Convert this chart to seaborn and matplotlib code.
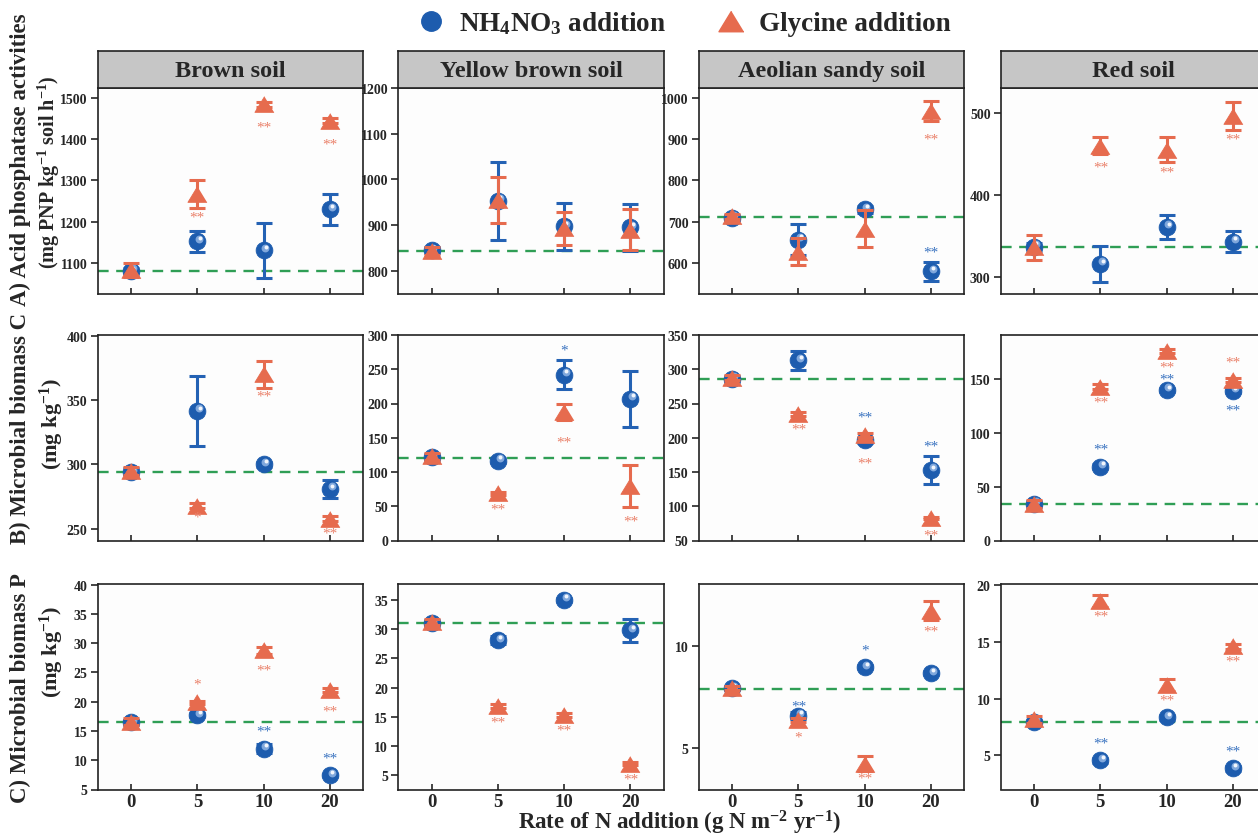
import numpy as np
import pandas as pd
import matplotlib
matplotlib.use("Agg")
import matplotlib.pyplot as plt
import seaborn as sns
from matplotlib.lines import Line2D
from matplotlib.markers import MarkerStyle
from matplotlib.transforms import ScaledTranslation

sns.set_theme(style="ticks")
plt.rcParams["font.family"] = ["Liberation Serif", "DejaVu Serif"]
plt.rcParams["font.weight"] = "bold"
plt.rcParams["mathtext.fontset"] = "custom"
plt.rcParams["mathtext.rm"] = "Liberation Serif:bold"
plt.rcParams["mathtext.it"] = "Liberation Serif:bold:italic"
plt.rcParams["mathtext.bf"] = "Liberation Serif:bold"

# ---------------- data ----------------
n_rates = ["0", "5", "10", "20"]
soils = ["Brown soil", "Yellow brown soil", "Aeolian sandy soil", "Red soil"]
legend_labels = ["NH$_4$NO$_3$ addition", "Glycine addition"]
row_labels = ["A) Acid phosphatase activities", "B) Microbial biomass C", "C) Microbial biomass P"]
unit_labels = ["(mg PNP kg$^{-1}$ soil h$^{-1}$)", "(mg kg$^{-1}$)", "(mg kg$^{-1}$)"]
x_title = "Rate of N addition (g N m$^{-2}$ yr$^{-1}$)"

# A) acid phosphatase
acp_nh4 = [[1080, 1152, 1130, 1230], [845, 953, 897, 895], [709, 656, 730, 579], [337, 316, 361, 343]]
acp_nh4_err = [[8, 25, 67, 38], [6, 85, 52, 52], [6, 38, 8, 23], [5, 22, 15, 13]]
acp_gly = [[1082, 1266, 1485, 1445], [843, 955, 893, 890], [713, 627, 682, 969], [336, 460, 455, 496]]
acp_gly_err = [[16, 34, 6, 6], [8, 50, 36, 44], [6, 33, 45, 25], [15, 10, 15, 17]]
acp_ctrl = [1080, 844, 711, 336]
acp_nh4_sig = [["", "", "", ""], ["", "", "", ""], ["", "", "", "**"], ["", "", "", ""]]
acp_nh4_sig_y = [[0, 0, 0, 0], [0, 0, 0, 0], [0, 0, 0, 626], [0, 0, 0, 0]]
acp_gly_sig = [["", "**", "**", "**"], ["", "", "", ""], ["", "", "", "**"], ["", "**", "**", "**"]]
acp_gly_sig_y = [[0, 1210, 1429, 1388], [0, 0, 0, 0], [0, 0, 0, 902], [0, 434, 428, 468]]

# B) microbial biomass C
mbc_nh4 = [[294, 341.6, 300, 281], [121.5, 116.6, 242, 207], [286, 313, 196, 153], [34, 68.7, 140, 139]]
mbc_nh4_err = [[3, 27, 2, 7], [5, 4, 21, 41], [4, 14, 4, 20.5], [3, 2, 2, 2]]
mbc_gly = [[295, 268, 370, 258], [123, 69, 188, 80], [287.6, 235, 203.7, 82.7], [34, 143, 176, 149]]
mbc_gly_err = [[3, 2, 10.5, 2], [5, 2, 12, 30.5], [4, 3, 3, 2], [4, 2, 2, 2]]
mbc_ctrl = [294, 120.5, 286, 34]
mbc_nh4_sig = [["", "", "", ""], ["", "", "*", ""], ["", "", "**", "**"], ["", "**", "**", "**"]]
mbc_nh4_sig_y = [[0, 0, 0, 0], [0, 0, 278, 0], [0, 0, 230.5, 187.6], [0, 85, 149.8, 121]]
mbc_gly_sig = [["", "*", "**", "**"], ["", "**", "**", "**"], ["", "**", "**", "**"], ["", "**", "**", "**"]]
mbc_gly_sig_y = [[0, 259, 353, 247], [0, 46, 144, 29], [0, 213, 163, 58], [0, 128.5, 161.5, 166]]

# C) microbial biomass P
mbp_nh4 = [[16.5, 17.7, 12, 7.4], [31.0, 28.1, 35, 29.8], [7.93, 6.6, 8.94, 8.66], [7.95, 4.56, 8.36, 3.86]]
mbp_nh4_err = [[0.4, 0.4, 0.8, 0.3], [0.5, 0.7, 0.3, 2], [0.1, 0.15, 0.1, 0.1], [0.2, 0.2, 0.2, 0.2]]
mbp_gly = [[16.6, 19.9, 28.8, 22], [31.2, 16.9, 15.3, 7.0], [7.96, 6.38, 4.26, 11.7], [8.2, 18.6, 11.2, 14.6]]
mbp_gly_err = [[0.6, 0.3, 0.6, 0.4], [0.5, 0.3, 0.3, 0.3], [0.1, 0.1, 0.35, 0.45], [0.3, 0.5, 0.55, 0.2]]
mbp_ctrl = [16.6, 31.1, 7.9, 7.95]
mbp_nh4_sig = [["", "", "**", "**"], ["", "", "", ""], ["", "**", "*", ""], ["", "**", "", "**"]]
mbp_nh4_sig_y = [[0, 0, 15, 10.3], [0, 0, 0, 0], [0, 7.08, 9.8, 0], [0, 6.1, 0, 5.4]]
mbp_gly_sig = [["", "*", "**", "**"], ["", "**", "**", "**"], ["", "*", "**", "**"], ["", "**", "**", "**"]]
mbp_gly_sig_y = [[0, 23, 25.4, 18.4], [0, 14.2, 12.7, 4.4], [0, 5.57, 3.55, 10.7], [0, 17.3, 9.85, 13.3]]

rows = [
    (acp_nh4, acp_nh4_err, acp_gly, acp_gly_err, acp_ctrl, acp_nh4_sig, acp_nh4_sig_y, acp_gly_sig, acp_gly_sig_y),
    (mbc_nh4, mbc_nh4_err, mbc_gly, mbc_gly_err, mbc_ctrl, mbc_nh4_sig, mbc_nh4_sig_y, mbc_gly_sig, mbc_gly_sig_y),
    (mbp_nh4, mbp_nh4_err, mbp_gly, mbp_gly_err, mbp_ctrl, mbp_nh4_sig, mbp_nh4_sig_y, mbp_gly_sig, mbp_gly_sig_y),
]

# axis ranges and ticks
ylims = [
    [(1025, 1525), (750, 1200), (525, 1025), (280, 530)],
    [(241, 400.5), (0, 300), (50, 350), (0, 191)],
    [(5, 40.1), (2.6, 37.7), (3, 13), (2, 20.1)],
]
yticks = [
    [np.arange(1100, 1501, 100), np.arange(800, 1201, 100), np.arange(600, 1001, 100), [300, 400, 500]],
    [np.arange(250, 401, 50), np.arange(0, 301, 50), np.arange(50, 351, 50), [0, 50, 100, 150]],
    [np.arange(5, 41, 5), np.arange(5, 36, 5), [5, 10], [5, 10, 15, 20]],
]

# ---------------- style ----------------
BLUE = "#1d5cae"
BLUE_EB = "#2462b4"
ORANGE = "#e66b4e"
ORANGE_STAR = "#ea8069"
BLUE_STAR = "#3a73c0"
GREEN = "#2f9e55"
tri = MarkerStyle([(0, 0.82), (-1, -0.82), (1, -0.82)])

W, H = 1258, 837
fig = plt.figure(figsize=(W / 100, H / 100), dpi=100)
col_left = [98, 398.5, 699, 1001]
row_top = [89, 336, 585]
ax_w, ax_h = 265, 205.5


def rect(l, t, w, h):
    return [l / W, 1 - (t + h) / H, w / W, h / H]


positions = np.arange(len(n_rates))

for r, (nh4, nh4_e, gly, gly_e, ctrl, s1, s1y, s2, s2y) in enumerate(rows):
    for c in range(4):
        ax = fig.add_axes(rect(col_left[c], row_top[r], ax_w, ax_h))
        ax.set_facecolor("#fdfdfd")
        df_n = pd.DataFrame({"pos": positions, "val": nh4[c], "err": nh4_e[c]})
        df_g = pd.DataFrame({"pos": positions, "val": gly[c], "err": gly_e[c]})

        ax.axhline(ctrl[c], color=GREEN, lw=1.7, dashes=(4.5, 3.2), zorder=1)

        ax.errorbar(df_n["pos"], df_n["val"], yerr=df_n["err"], fmt="none",
                    ecolor=BLUE_EB, elinewidth=2.2, capsize=5.5, capthick=2.2, zorder=2)
        sns.scatterplot(data=df_n, x="pos", y="val", ax=ax, color=BLUE, s=145,
                        marker="o", edgecolor=BLUE, linewidth=0.6, zorder=3, legend=False)
        hl1 = ax.transData + ScaledTranslation(1.2 / 72, 1.8 / 72, fig.dpi_scale_trans)
        hl2 = ax.transData + ScaledTranslation(1.6 / 72, 2.4 / 72, fig.dpi_scale_trans)
        ax.scatter(df_n["pos"], df_n["val"], s=32, color="#7fa7dc", transform=hl1,
                   linewidths=0, zorder=3.1)
        ax.scatter(df_n["pos"], df_n["val"], s=8, color="#f2f6fc", transform=hl2,
                   linewidths=0, zorder=3.2)

        ax.errorbar(df_g["pos"], df_g["val"], yerr=df_g["err"], fmt="none",
                    ecolor=ORANGE, elinewidth=2.2, capsize=5.5, capthick=2.2, zorder=4)
        sns.scatterplot(data=df_g, x="pos", y="val", ax=ax, color=ORANGE, s=190,
                        marker=tri, edgecolor=ORANGE, linewidth=0.6, zorder=5, legend=False)

        for i in positions:
            if s1[c][i]:
                ax.text(i, s1y[c][i], s1[c][i], color=BLUE_STAR, fontsize=11,
                        fontweight="normal", ha="center", va="center", zorder=6)
            if s2[c][i]:
                ax.text(i, s2y[c][i], s2[c][i], color=ORANGE_STAR, fontsize=11,
                        fontweight="normal", ha="center", va="center", zorder=6)

        ax.set_xlim(-0.5, 3.5)
        ax.set_ylim(*ylims[r][c])
        ax.set_yticks(yticks[r][c])
        ax.set_xticks(positions)
        if r == 2:
            ax.set_xticklabels(n_rates, fontsize=13.5, fontweight="bold")
        else:
            ax.set_xticklabels([])
        ax.tick_params(axis="y", labelsize=10, direction="out", length=5, width=1.2, pad=2.5)
        ax.tick_params(axis="x", direction="in", length=4, width=1.2, pad=2.5)
        for lab in ax.get_yticklabels():
            lab.set_fontweight("bold")
        ax.set_xlabel("")
        ax.set_ylabel("")
        for sp in ax.spines.values():
            sp.set_visible(True)
            sp.set_linewidth(1.2)
            sp.set_color("#222222")

        if r == 0:
            st = fig.add_axes(rect(col_left[c], 52, ax_w, 37))
            st.set_facecolor("#c6c6c6")
            st.set_xticks([])
            st.set_yticks([])
            for sp in st.spines.values():
                sp.set_linewidth(1.2)
                sp.set_color("#222222")
            st.text(0.5, 0.48, soils[c], transform=st.transAxes, ha="center", va="center",
                    fontsize=17.5, fontweight="bold")

# row labels
row_centers = [160, 428, 688]
unit_centers = [172, 424, 652]
unit_x = [49, 52, 52]
unit_sizes = [14.5, 16, 16]
for r in range(3):
    fig.text(20 / W, 1 - row_centers[r] / H, row_labels[r], rotation=90, ha="center", va="center",
             fontsize=16.5, fontweight="bold")
    fig.text(unit_x[r] / W, 1 - unit_centers[r] / H, unit_labels[r], rotation=90, ha="center",
             va="center", fontsize=unit_sizes[r], fontweight="bold")

fig.text(680 / W, 1 - 823 / H, x_title, ha="center", va="center", fontsize=16.5, fontweight="bold")

handles = [
    Line2D([], [], marker="o", color=BLUE, markersize=14, linestyle="none"),
    Line2D([], [], marker=tri, color=ORANGE, markersize=18, linestyle="none"),
]
fig.legend(handles, legend_labels, loc="center", bbox_to_anchor=(684 / W, 1 - 24 / H), ncol=2,
           frameon=False, prop={"size": 19.5, "weight": "bold"}, columnspacing=1.9,
           handletextpad=0.55, handlelength=1.0)

fig.savefig("out.png", dpi=100)
